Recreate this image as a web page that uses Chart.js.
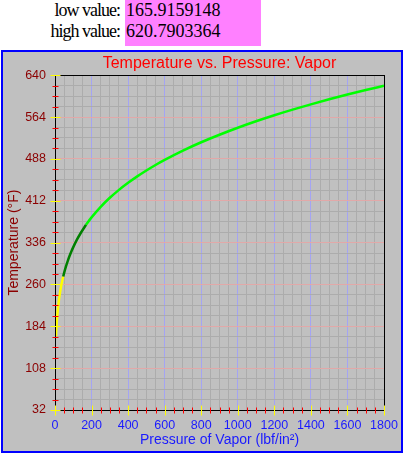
<!DOCTYPE html>
<html>
<head>
<meta charset="utf-8">
<script src="https://cdn.jsdelivr.net/npm/chart.js@4.4.1/dist/chart.umd.min.js"></script>
<style>
  html, body { margin: 0; padding: 0; background: #fff; width: 404px; height: 454px; overflow: hidden; }
  .lbl { position: absolute; left: 0; width: 120px; text-align: right; font: 18px 'Liberation Serif', 'Times New Roman', serif; letter-spacing: -1px; line-height: 21px; color: #000; }
  #vals { position: absolute; left: 125px; top: 0; width: 135px; height: 46px; padding-left: 1px; background: #ff80ff; font: 18px 'Liberation Serif', 'Times New Roman', serif; line-height: 21px; color: #000; }
  #frame { position: absolute; left: 1px; top: 50px; width: 398px; height: 399px; border: 2px solid #0000ff; background: #c0c0c0; }
  #frame canvas { position: absolute; left: 0; top: 0; }
</style>
</head>
<body>
<div class="lbl" style="top:0">low value:</div>
<div class="lbl" style="top:21px">high value:</div>
<div id="vals"><div id="lowv"></div><div id="highv"></div></div>
<div id="frame"><canvas id="c" width="398" height="399"></canvas></div>
<script>
// ---- data ----
const lowValue = "165.9159148";
const highValue = "620.7903364";
const titleText = "Temperature vs. Pressure: Vapor";
const xTitle = "Pressure of Vapor (lbf/in\u00B2)";
const yTitle = "Temperature (\u00B0F)";
const pressure = [5.5, 6, 7, 8, 9, 10, 12, 14.7, 17, 20, 25, 30, 35, 40, 45, 50, 60, 70, 80, 90, 100, 120, 140, 160, 170, 180, 200, 250, 300, 350, 400, 450, 500, 550, 600, 700, 800, 900, 1000, 1100, 1200, 1300, 1400, 1500, 1600, 1700, 1800];
const temperature = [165.92, 170.0, 176.8, 182.8, 188.3, 193.2, 201.9, 212.0, 219.4, 228.0, 240.1, 250.3, 259.3, 267.3, 274.4, 281.0, 292.7, 302.9, 312.0, 320.3, 327.8, 341.3, 353.0, 363.5, 368.4, 373.1, 381.8, 401.0, 417.4, 431.8, 444.6, 456.3, 467.0, 477.0, 486.2, 503.1, 518.2, 531.9, 544.6, 556.3, 567.2, 577.4, 587.1, 596.2, 604.9, 613.1, 620.79];
const xMin = 0, xMax = 1800, xMajor = 200, xMinor = 50;
const yMin = 32, yMax = 640, yMajor = 76, yMinor = 19;
const yellowEnd = 45, darkGreenEnd = 170;

document.getElementById('lowv').textContent = lowValue;
document.getElementById('highv').textContent = highValue;

const points = pressure.map((p, i) => ({x: p, y: temperature[i]}));
const onStep = (v, base, step) => { const q = (v - base) / step; return Math.abs(q - Math.round(q)) < 1e-6; };
const isMajorX = v => onStep(v, xMin, xMajor);
const isMajorY = v => onStep(v, yMin, yMajor);

const axisDeco = {
  id: 'axisDeco',
  afterDatasetsDraw(chart) {
    const {ctx, chartArea: a, scales: {x, y}} = chart;
    ctx.save();
    ctx.lineWidth = 1;
    ctx.strokeStyle = '#000';
    const L = Math.round(a.left) + 0.5, R = Math.round(a.right) + 0.5;
    const T = Math.round(a.top) + 0.5, B = Math.round(a.bottom) + 0.5;
    ctx.strokeRect(L, T, R - L, B - T);
    x.ticks.forEach(t => {
      const px = Math.round(x.getPixelForValue(t.value)) + 0.5;
      const major = isMajorX(t.value);
      const len = major ? 5 : 3;
      ctx.strokeStyle = major ? '#ffff00' : '#ff0000';
      ctx.beginPath(); ctx.moveTo(px, B - len); ctx.lineTo(px, B + len); ctx.stroke();
    });
    y.ticks.forEach(t => {
      const py = Math.round(y.getPixelForValue(t.value)) + 0.5;
      const major = isMajorY(t.value);
      const len = major ? 5 : 3;
      ctx.strokeStyle = major ? '#ffff00' : '#ff0000';
      ctx.beginPath(); ctx.moveTo(L - len, py); ctx.lineTo(L + len, py); ctx.stroke();
    });
    ctx.restore();
  }
};

const segColor = c => {
  const p = c.p0.parsed.x;
  if (p < yellowEnd) return '#ffff00';
  if (p < darkGreenEnd) return '#008000';
  return '#00ff00';
};

new Chart(document.getElementById('c'), {
  type: 'line',
  data: {
    datasets: [{
      data: points,
      borderColor: '#00ff00',
      borderWidth: 2.5,
      pointRadius: 0,
      cubicInterpolationMode: 'monotone',
      segment: { borderColor: segColor },
      fill: false
    }]
  },
  options: {
    responsive: false,
    animation: false,
    layout: { padding: { left: 0, right: 17, top: 0, bottom: 0 } },
    plugins: {
      legend: { display: false },
      tooltip: { enabled: false },
      title: {
        display: true, text: titleText, color: '#ff0000', fullSize: false,
        font: { family: "'Liberation Sans', Arial, sans-serif", size: 16, weight: 'normal' },
        padding: { top: 2, bottom: 2 }
      }
    },
    scales: {
      x: {
        type: 'linear', min: xMin, max: xMax,
        afterFit(s) { s.height = 41; s.paddingLeft = 0; s.paddingRight = 0; },
        border: { display: false },
        grid: {
          drawTicks: false,
          lineWidth: 1,
          color: c => (c.tick.value === xMin || c.tick.value === xMax) ? 'rgba(0,0,0,0)' : (isMajorX(c.tick.value) ? '#a4a4f4' : '#acacac')
        },
        ticks: {
          stepSize: xMinor, autoSkip: false, maxRotation: 0, padding: 8,
          color: '#1a1aff',
          font: { family: "'Liberation Sans', Arial, sans-serif", size: 12.5 },
          callback: v => isMajorX(v) ? String(Math.round(v)) : ''
        },
        title: {
          display: true, text: xTitle, color: '#1a1aff',
          font: { family: "'Liberation Sans', Arial, sans-serif", size: 14 },
          padding: { top: 0, bottom: 2 }
        }
      },
      y: {
        type: 'linear', min: yMin, max: yMax,
        afterFit(s) { s.width = 52; s.paddingTop = 0; s.paddingBottom = 0; },
        border: { display: false },
        grid: {
          drawTicks: false,
          lineWidth: 1,
          color: c => (c.tick.value === yMin || c.tick.value === yMax) ? 'rgba(0,0,0,0)' : (isMajorY(c.tick.value) ? '#e2a8a8' : '#acacac')
        },
        ticks: {
          stepSize: yMinor, autoSkip: false, padding: 9,
          color: '#8b0000',
          font: { family: "'Liberation Sans', Arial, sans-serif", size: 12.5 },
          callback: v => isMajorY(v) ? String(Math.round(v)) : ''
        },
        title: {
          display: true, text: yTitle, color: '#8b0000',
          font: { family: "'Liberation Sans', Arial, sans-serif", size: 14 },
          padding: { top: 3, bottom: 0 }
        }
      }
    }
  },
  plugins: [axisDeco]
});
</script>
</body>
</html>
